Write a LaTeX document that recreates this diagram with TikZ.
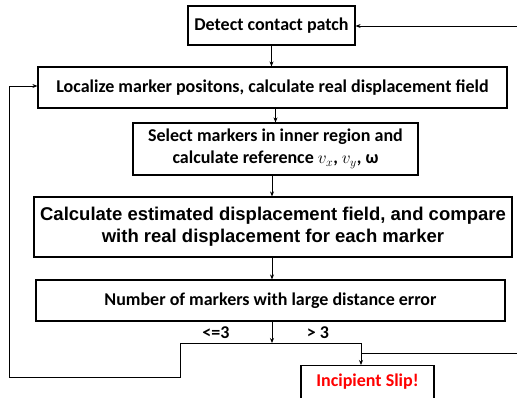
\documentclass[tikz,border=0pt]{standalone}
\usepackage{fontspec}
\setmainfont{Carlito}
\newfontfamily\arialfont{Liberation Sans}
\usetikzlibrary{arrows.meta}
\begin{document}
\begin{tikzpicture}[x=1pt,y=-1pt,
  box/.style={draw, line width=1.2pt, inner sep=0pt, font=\bfseries\fontsize{18}{22}\selectfont, align=center},
  conn/.style={line width=1pt, -{Stealth[length=5pt,width=4pt]}},
  line/.style={line width=1pt},
  lbl/.style={font=\bfseries\fontsize{18}{22}\selectfont, inner sep=0pt}]
\useasboundingbox (0,0) rectangle (517,397);
\node[box, minimum width=167pt, minimum height=39pt] (detect) at (271.5,25.5) {Detect contact patch};
\node[box, minimum width=469pt, minimum height=41pt] (local) at (272.5,87.5) {Localize marker positons, calculate real displacement field};
\node[box, minimum width=285pt, minimum height=52pt, font=\bfseries\fontsize{18}{22}\selectfont] (select) at (275.5,149) {Select markers in inner region and\\calculate reference $v_x$, $v_y$, ω};
\node[box, minimum width=478pt, minimum height=60pt, font=\arialfont\bfseries\fontsize{18.5}{22}\selectfont] (calc) at (273,227) {Calculate estimated displacement field, and compare\\with real displacement for each marker};
\node[box, minimum width=469pt, minimum height=41pt] (number) at (270.5,300.5) {Number of markers with large distance error};
\node[draw, line width=1.2pt, minimum width=133pt, minimum height=42pt, anchor=north] (slip) at (367.5,365) {};
\node[lbl, text=red] (sliptext) at (367.5,382) {Incipient Slip!};
\coordinate (join) at (272,343);
\coordinate (jl) at (180,343);
\coordinate (jr) at (361,343);
\coordinate (ll) at (180,377);
\coordinate (l0) at (9,377);
\coordinate (l1) at (9,86);
\coordinate (rin) at (517,26);
\coordinate (rout) at (517,353);
\coordinate (rj) at (361,353);
\draw[conn] (rin) -- (detect.east |- rin);
\draw[conn] (detect.south) -- (local.north -| detect.south);
\draw[conn] (local.south -| select.north) -- (select.north);
\draw[conn] (select.south -| 272,0) -- (calc.north -| 272,0);
\draw[conn] (calc.south -| 272,0) -- (number.north -| 272,0);
\draw[conn] (number.south -| join) -- (join);
\draw[line] (jl) -- (jr);
\draw[conn] (jr) -- (jr |- slip.north);
\draw[conn] (jl) -- (ll) -- (l0) -- (l1) -- (local.west |- l1);
\draw[line] (rj) -- (rout);
\node[lbl] (le) at (216,333) {<=3};
\node[lbl] (gt) at (318,333) {> 3};
\end{tikzpicture}
\end{document}
